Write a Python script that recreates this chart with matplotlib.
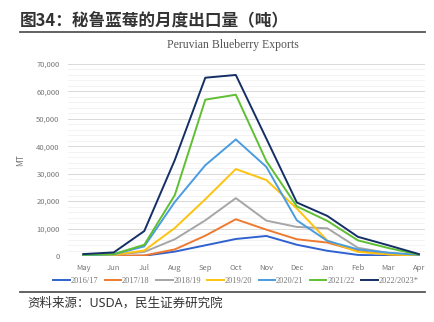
import numpy as np
import matplotlib
matplotlib.use('Agg')
import matplotlib.pyplot as plt
from matplotlib.ticker import FuncFormatter, MultipleLocator

plt.rcParams['font.family'] = ['Noto Sans CJK SC', 'DejaVu Sans']

months = ['May', 'Jun', 'Jul', 'Aug', 'Sep', 'Oct', 'Nov', 'Dec', 'Jan', 'Feb', 'Mar', 'Apr']

s_2016 = [0, 0, 100, 1600, 3900, 6200, 7300, 4100, 1900, 400, 100, 0]
s_2017 = [0, 100, 200, 2400, 7400, 13400, 9600, 6100, 4900, 1800, 600, 100]
s_2018 = [100, 400, 1500, 6100, 13000, 21100, 12900, 10600, 10100, 3000, 1100, 400]
s_2019 = [100, 400, 2000, 10200, 20700, 31700, 27700, 17300, 5600, 1500, 600, 200]
s_2020 = [200, 600, 3500, 19700, 33100, 42500, 32500, 13000, 5500, 2400, 1200, 400]
s_2021 = [400, 700, 4100, 22200, 57000, 58800, 34600, 18100, 12800, 5700, 2900, 500]
s_2022 = [700, 1300, 9100, 35000, 65000, 66000, 42800, 19500, 14600, 7000, 3900, 700]

seasons = ['2016/17', '2017/18', '2018/19', '2019/20', '2020/21', '2021/22', '2022/2023*']
series = [s_2016, s_2017, s_2018, s_2019, s_2020, s_2021, s_2022]
colors = ['#2F62CF', '#EE7A30', '#A6A6A6', '#FFC20E', '#4A9BE0', '#5FBF32', '#142F66']

fig = plt.figure(figsize=(4.35, 3.22), dpi=100, facecolor='white')

# header and footer
fig.text(20/435, 1 - 20/322, '图34：秘鲁蓝莓的月度出口量（吨）', fontsize=12,
         fontweight='bold', color='#333333', ha='left', va='center')
fig.add_artist(plt.Line2D([20/435, 425/435], [1 - 32/322, 1 - 32/322],
                          color='#555555', lw=1.3, transform=fig.transFigure))
fig.add_artist(plt.Line2D([20/435, 425/435], [1 - 292/322, 1 - 292/322],
                          color='#555555', lw=1.3, transform=fig.transFigure))
fig.text(27/435, 1 - 303/322, '资料来源：USDA，民生证券研究院', fontsize=9,
         family=['Noto Sans', 'Noto Sans CJK SC'],
         color='#333333', ha='left', va='center')
fig.text(233/435, 1 - 45/322, 'Peruvian Blueberry Exports', fontsize=8.5,
         family='Liberation Serif', color='#555555', ha='center', va='center')

ax = fig.add_axes([68/435, 1 - 256/322, (425 - 68)/435, (256 - 64)/322])
x = np.arange(len(months))
for name, vals, c in zip(seasons, series, colors):
    ax.plot(x, vals, color=c, lw=1.4, label=name, zorder=3)

ax.set_xlim(-0.5, 11.2)
ax.set_ylim(0, 70000)
ax.yaxis.set_major_locator(MultipleLocator(10000))
ax.yaxis.set_minor_locator(MultipleLocator(2000))
ax.yaxis.set_major_formatter(FuncFormatter(lambda v, p: f'{int(v):,}'))
ax.grid(which='major', axis='y', color='#D9D9D9', lw=0.7)
ax.grid(which='minor', axis='y', color='#EEEEEE', lw=0.5)
ax.set_xticks(x)
ax.set_xticklabels(months)
ax.tick_params(axis='both', which='both', length=0, labelsize=5.5,
               labelcolor='#777777', pad=6)
for sp in ax.spines.values():
    sp.set_visible(False)
ax.set_ylabel('MT', fontsize=6, color='#777777', labelpad=8)

ax.legend(loc='center', bbox_to_anchor=(0.47, -0.13), ncol=7,
          frameon=False, handlelength=2.0, handletextpad=0.1,
          columnspacing=0.75, labelcolor='#777777',
          prop={'family': 'Liberation Serif', 'size': 6})

fig.savefig('out.png', dpi=100, facecolor='white')
